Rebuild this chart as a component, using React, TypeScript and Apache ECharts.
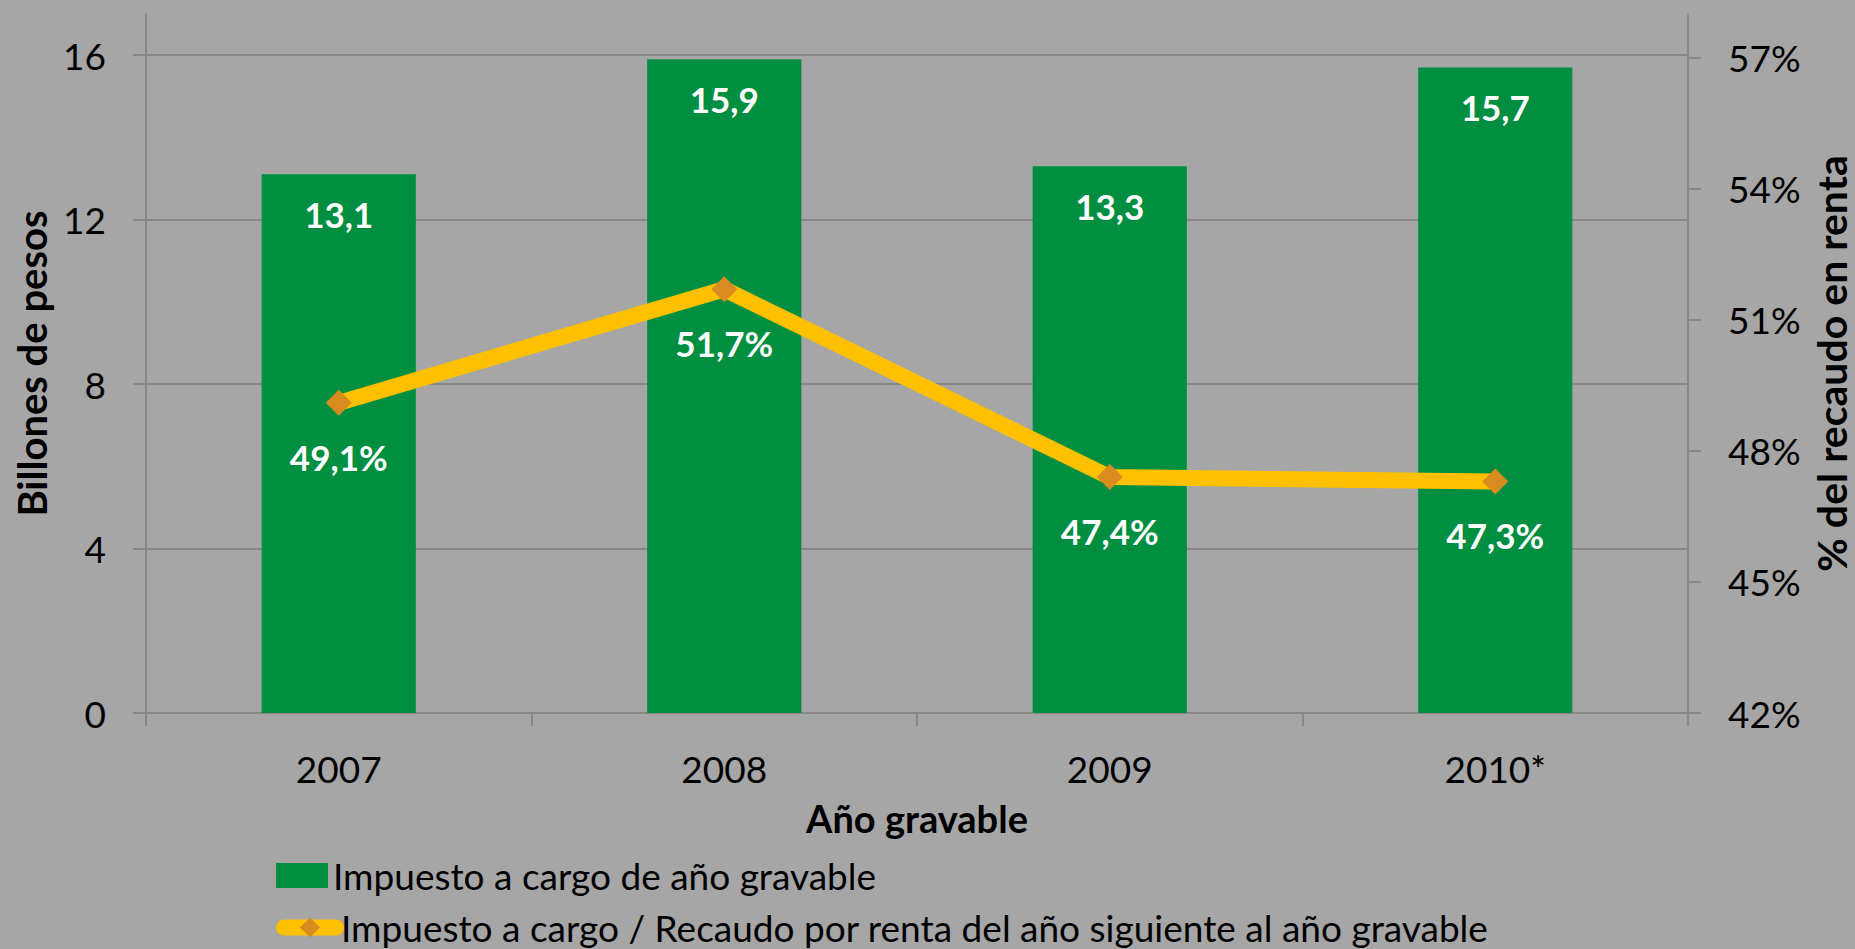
import React, { useEffect, useRef } from "react";
import * as echarts from "echarts";

const categories = ["2007", "2008", "2009", "2010*"];
const impuestoValues = [13.1, 15.9, 13.3, 15.7];
const porcentajeValues = [49.1, 51.7, 47.4, 47.3];
const leftTicks = [0, 4, 8, 12, 16];
const rightTicks = [42, 45, 48, 51, 54, 57];

const barName = "Impuesto a cargo de año gravable";
const lineName = "Impuesto a cargo / Recaudo por renta del año siguiente al año gravable";

const FONT = "Lato";
const GRID_COLOR = "#888888";

const fmt = (v: number) => v.toFixed(1).replace(".", ",");

export default function App() {
  const ref = useRef<HTMLDivElement>(null);

  useEffect(() => {
    if (!ref.current) return;
    const chart = echarts.init(ref.current, null, { renderer: "svg" });
    const legendBase = {
      orient: "horizontal",
      left: 276,
      itemWidth: 52,
      itemHeight: 25,
      padding: 0,
      textStyle: { fontFamily: FONT, fontSize: 37, lineHeight: 36, color: "#000" },
    };
    const option: any = {
      animation: false,
      backgroundColor: "#A6A6A6",
      textStyle: { fontFamily: FONT },
      grid: {
        left: 146,
        right: 167,
        top: 14,
        bottom: 236,
        containLabel: false,
        outerBoundsMode: "none",
      },
      legend: [
        {
          ...legendBase,
          top: 857,
          data: [{ name: barName, icon: "rect" }],
        },
        {
          ...legendBase,
          top: 909,
          data: [{ name: lineName }],
          lineStyle: { width: 16, cap: "round" },
        },
      ],
      xAxis: {
        type: "category",
        data: categories,
        boundaryGap: true,
        axisLine: { show: true, lineStyle: { color: GRID_COLOR, width: 2 } },
        axisTick: { show: true, length: 13, lineStyle: { color: GRID_COLOR, width: 2 } },
        axisLabel: { fontFamily: FONT, fontSize: 37, color: "#000", margin: 37 },
        name: "Año gravable",
        nameLocation: "middle",
        nameGap: 86,
        nameTextStyle: { fontFamily: FONT, fontSize: 38, fontWeight: "bold", color: "#000" },
      },
      yAxis: [
        {
          type: "value",
          min: 0,
          max: 17,
          position: "left",
          axisLine: { show: true, lineStyle: { color: GRID_COLOR, width: 2 } },
          axisTick: { show: true, length: 13, customValues: leftTicks, lineStyle: { color: GRID_COLOR, width: 2 } },
          axisLabel: { customValues: leftTicks, fontFamily: FONT, fontSize: 37, color: "#000", margin: 40 },
          splitLine: { show: true, lineStyle: { color: GRID_COLOR, width: 2 } },
          name: "Billones de pesos",
          nameLocation: "middle",
          nameRotate: 90,
          nameGap: 94,
          nameTextStyle: { fontFamily: FONT, fontSize: 40, fontWeight: "bold", color: "#000" },
        },
        {
          type: "value",
          min: 42,
          max: 58,
          position: "right",
          axisLine: { show: true, lineStyle: { color: GRID_COLOR, width: 2 } },
          axisTick: { show: true, length: 13, customValues: rightTicks, lineStyle: { color: GRID_COLOR, width: 2 } },
          axisLabel: {
            customValues: rightTicks,
            fontFamily: FONT,
            fontSize: 37,
            color: "#000",
            margin: 40,
            formatter: (v: number) => `${v}%`,
          },
          splitLine: { show: false },
          name: "% del recaudo en renta",
          nameLocation: "middle",
          nameRotate: 90,
          nameGap: 120,
          nameTextStyle: { fontFamily: FONT, fontSize: 41, lineHeight: 41, fontWeight: "bold", color: "#000" },
        },
      ],
      series: [
        {
          name: barName,
          type: "bar",
          data: impuestoValues,
          barWidth: "40%",
          itemStyle: { color: "#008E40" },
          label: {
            show: true,
            position: "insideTop",
            distance: 22,
            fontFamily: FONT,
            fontSize: 35,
            fontWeight: "bold",
            color: "#fff",
            formatter: (p: any) => fmt(p.value),
          },
          z: 2,
        },
        {
          name: lineName,
          type: "line",
          yAxisIndex: 1,
          data: porcentajeValues,
          lineStyle: { color: "#FFC000", width: 16, cap: "round" },
          itemStyle: { color: "#D88B1F" },
          symbol: "diamond",
          symbolSize: 26,
          label: {
            show: true,
            position: "inside",
            offset: [0, 54],
            fontFamily: FONT,
            fontSize: 35,
            fontWeight: "bold",
            color: "#fff",
            formatter: (p: any) => `${fmt(p.value)}%`,
          },
          z: 3,
        },
      ],
    };
    chart.setOption(option);
    return () => chart.dispose();
  }, []);

  return (
    <div
      ref={ref}
      style={{ position: "absolute", left: 0, top: 0, width: 1855, height: 949 }}
    />
  );
}
